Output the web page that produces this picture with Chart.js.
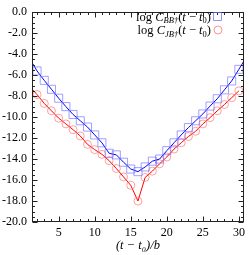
<!DOCTYPE html>
<html>
<head>
<meta charset="utf-8">
<script src="https://cdn.jsdelivr.net/npm/chart.js@4.4.1/dist/chart.umd.min.js"></script>
<style>
  html, body { margin: 0; padding: 0; background: #fff; }
</style>
</head>
<body>
<canvas id="myChart" width="249" height="255"></canvas>
<script>
// data
const tBB = [1, 2, 3, 4, 5, 6, 7, 8, 9, 10, 11, 12, 13, 14, 15, 16, 17, 18, 19, 20, 21, 22, 23, 24, 25, 26, 27, 28, 29, 30, 31];
const logCBB = [-4.45, -5.6, -6.5, -7.35, -8.2, -9.0, -9.75, -10.35, -10.95, -11.7, -12.45, -13.45, -13.6, -14.3, -14.95, -15.2,
    -14.75, -14.2, -14.0, -13.2, -12.45, -11.7, -11.0, -10.35, -9.7, -8.95, -8.25, -7.4, -6.55, -5.45, -4.3];
const tJB = [1, 2, 3, 4, 5, 6, 7, 8, 9, 10, 11, 12, 13, 14, 15, 16, 17, 18, 19, 20, 21, 22, 23, 24, 25, 26, 27, 28, 29, 30];
const logCJB = [-7.1, -7.85, -8.7, -9.4, -10.1, -10.65, -11.2, -11.8, -12.6, -13.1, -13.55, -14.15, -14.9, -15.7, -16.5, -18.0,
    -15.75, -15.15, -14.45, -13.8, -13.05, -12.45, -11.85, -11.35, -10.65, -10.05, -9.4, -8.8, -8.15, -7.5];
const xTickLabels = [5, 10, 15, 20, 25, 30];
const yTickLabels = [0, -2, -4, -6, -8, -10, -12, -14, -16, -18, -20];
const xMin = 1.3, xMax = 30.7;
const yMin = -20, yMax = 0;

const serif = "'Liberation Serif', 'Times New Roman', serif";

function toPoints(xs, ys) {
    return xs.map((x, i) => ({ x: x, y: ys[i] }));
}

// hide markers whose centre lies outside the plotted range
function markerRadius(r) {
    return function (c) {
        const p = c.raw;
        if (!p || p.x < xMin || p.x > xMax) return 0;
        return r;
    };
}

// gnuplot-like frame: box, inward ticks on all four sides, legend
const framePlugin = {
    id: 'frame',
    afterDraw(chart) {
        const ctx = chart.ctx;
        const a = chart.chartArea;
        const xs = chart.scales.x, ys = chart.scales.y;
        const L = Math.round(a.left) + 0.5, R = Math.round(a.right) - 0.5;
        const T = Math.round(a.top) + 0.5, B = Math.round(a.bottom) - 0.5;
        ctx.save();
        ctx.strokeStyle = '#222';
        ctx.lineWidth = 1;
        ctx.strokeRect(L, T, R - L, B - T);

        ctx.beginPath();
        for (let v = 2; v <= 30; v++) {
            const len = v % 5 === 0 ? 5 : 2.5;
            const px = Math.round(xs.getPixelForValue(v)) + 0.5;
            ctx.moveTo(px, B); ctx.lineTo(px, B - len);
            ctx.moveTo(px, T); ctx.lineTo(px, T + len);
        }
        for (let v = yMin; v <= yMax + 1e-9; v += 0.5) {
            const len = Math.abs(v % 2) < 1e-9 ? 5 : 2.5;
            const py = Math.round(ys.getPixelForValue(v)) + 0.5;
            ctx.moveTo(L, py); ctx.lineTo(L + len, py);
            ctx.moveTo(R, py); ctx.lineTo(R - len, py);
        }
        ctx.stroke();

        // legend
        const rows = [
            { sub: 'BB†', color: 'rgba(110,110,255,0.75)', style: 'rect', y: 16.5 },
            { sub: 'JB†', color: 'rgba(255,110,110,0.75)', style: 'circle', y: 30 }
        ];
        const main = '12.5px ' + serif, it = 'italic 12.5px ' + serif;
        const subIt = 'italic 8.5px ' + serif, subN = '8.5px ' + serif;
        ctx.fillStyle = '#000';
        ctx.textAlign = 'left';
        ctx.textBaseline = 'alphabetic';
        rows.forEach(row => {
            const parts = [
                ['log ', main, 0], ['C', it, 0], [row.sub, subIt, 2.5], ['(', main, 0], ['t', it, 0],
                [' \u2212 ', main, 0], ['t', it, 0], ['0', subN, 2.5], [')', main, 0]
            ];
            let w = 0;
            parts.forEach(p => { ctx.font = p[1]; w += ctx.measureText(p[0]).width; });
            let x = 211 - w;
            const base = row.y + 4;
            parts.forEach(p => {
                ctx.font = p[1];
                ctx.fillText(p[0], x, base + p[2]);
                x += ctx.measureText(p[0]).width;
            });
            ctx.strokeStyle = row.color;
            ctx.beginPath();
            if (row.style === 'rect') {
                ctx.rect(213.5, row.y - 4, 8, 8);
            } else {
                ctx.arc(218, row.y, 4, 0, Math.PI * 2);
            }
            ctx.stroke();
        });
        ctx.restore();
    }
};

const ctx1 = document.getElementById('myChart').getContext('2d');
const myChart = new Chart(ctx1, {
    type: 'line',
    data: {
        datasets: [
            {
                label: 'log C_BB†(t − t0)',
                data: toPoints(tBB, logCBB),
                borderColor: 'rgb(0, 0, 255)',
                borderWidth: 1,
                pointStyle: 'rect',
                pointRadius: markerRadius(5.7),
                pointBorderColor: 'rgba(110, 110, 255, 0.65)',
                pointBackgroundColor: 'rgba(0, 0, 0, 0)',
                pointBorderWidth: 1,
                tension: 0,
                clip: 0
            },
            {
                label: 'log C_JB†(t − t0)',
                data: toPoints(tJB, logCJB),
                borderColor: 'rgb(255, 0, 0)',
                borderWidth: 1,
                pointStyle: 'circle',
                pointRadius: markerRadius(4),
                pointBorderColor: 'rgba(255, 110, 110, 0.65)',
                pointBackgroundColor: 'rgba(0, 0, 0, 0)',
                pointBorderWidth: 1,
                tension: 0,
                clip: 0
            }
        ]
    },
    options: {
        responsive: false,
        animation: false,
        devicePixelRatio: 1,
        layout: { padding: { top: 5, right: 2, left: 0, bottom: 0 } },
        plugins: {
            legend: { display: false },
            tooltip: { enabled: false }
        },
        scales: {
            x: {
                type: 'linear',
                min: xMin,
                max: xMax,
                afterBuildTicks: s => { s.ticks = xTickLabels.map(v => ({ value: v })); },
                afterFit: s => { s.height = 33; },
                grid: { display: false, drawTicks: false },
                border: { display: false },
                ticks: {
                    color: '#000',
                    font: { family: serif, size: 12 },
                    padding: 4,
                    maxRotation: 0,
                    autoSkip: false
                },
                title: {
                    display: true,
                    text: '(t \u2212 t\u2080)/b',
                    color: '#000',
                    font: { family: serif, size: 12.5, style: 'italic' },
                    padding: { top: 0, bottom: 2 }
                }
            },
            y: {
                type: 'linear',
                min: yMin,
                max: yMax,
                afterBuildTicks: s => { s.ticks = yTickLabels.map(v => ({ value: v })); },
                afterFit: s => { s.width = 32; },
                grid: { display: false, drawTicks: false },
                border: { display: false },
                ticks: {
                    color: '#000',
                    font: { family: serif, size: 12 },
                    padding: 5,
                    autoSkip: false,
                    callback: v => v.toFixed(1)
                }
            }
        }
    },
    plugins: [framePlugin]
});
</script>
</body>
</html>
